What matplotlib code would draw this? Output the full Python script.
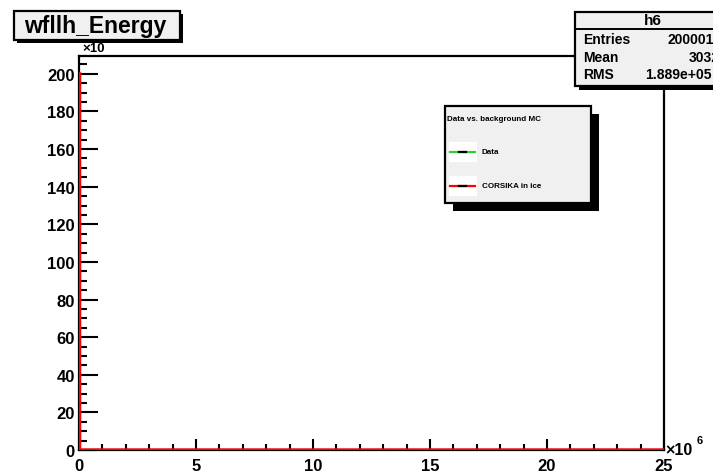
import numpy as np
import matplotlib
matplotlib.use("Agg")
import matplotlib.pyplot as plt
from matplotlib.patches import Rectangle
from matplotlib.lines import Line2D
from matplotlib.ticker import MultipleLocator

plt.rcParams['font.family'] = ['Liberation Sans', 'DejaVu Sans']
plt.rcParams['font.weight'] = 'bold'

# histogram contents: wfllh energy, everything lands in the first bin
hist_name = "h6"
hist_title = "wfllh_Energy"
n_entries = 200001
mean_str = "3032"
rms_str = "1.889e+05"
n_bins = 1000
x_max = 25e6
first_bin = n_entries
legend_header = "Data vs. background MC"
legend_labels = ["Data", "CORSIKA in ice"]
legend_colors = ["#33cc33", "red"]

W, H = 713, 477
fig = plt.figure(figsize=(W / 100, H / 100), dpi=100)
fig.patch.set_facecolor("white")


def fx(x):
    return x / W


def fy(y):
    return 1 - y / H


def box(x0, y0, x1, y1, shadow, z, face="#f0f0f0"):
    # ROOT style pave: black drop shadow then filled frame
    fig.add_artist(Rectangle((fx(x0 + shadow), fy(y1 + shadow)), fx(x1 - x0), (y1 - y0) / H,
                             transform=fig.transFigure, facecolor="black", edgecolor="none", zorder=z))
    fig.add_artist(Rectangle((fx(x0), fy(y1)), fx(x1 - x0), (y1 - y0) / H,
                             transform=fig.transFigure, facecolor=face, edgecolor="black",
                             linewidth=1.6, zorder=z + 0.1))


ax = fig.add_axes([fx(79), fy(451), fx(664 - 79), (451 - 57) / H])
edges = np.linspace(0, x_max, n_bins + 1)
counts = np.zeros(n_bins)
counts[0] = first_bin
ax.stairs(counts / 1e3, edges / 1e6, color="red", linewidth=2.4, baseline=0, zorder=3)

ax.set_xlim(0, 25)
ax.set_ylim(0, 209.5)
ax.xaxis.set_major_locator(MultipleLocator(5))
ax.xaxis.set_minor_locator(MultipleLocator(1))
ax.yaxis.set_major_locator(MultipleLocator(20))
ax.yaxis.set_minor_locator(MultipleLocator(5))
ax.tick_params(axis="x", which="major", direction="in", length=8, width=1.5, pad=6, labelsize=12)
ax.tick_params(axis="x", which="minor", direction="in", length=4.5, width=1.5)
ax.tick_params(axis="y", which="major", direction="in", length=13.5, width=1.5, pad=3, labelsize=12)
ax.tick_params(axis="y", which="minor", direction="in", length=6, width=1.5)
for lab in ax.get_xticklabels() + ax.get_yticklabels():
    lab.set_fontweight("bold")
for s in ax.spines.values():
    s.set_linewidth(1.6)

# axis multipliers (the y exponent sits under the title pave)
fig.text(fx(82), fy(49), "\u00d710", fontsize=9.5, ha="left", va="center", zorder=2)
fig.text(fx(665), fy(451), "\u00d710", fontsize=11.5, ha="left", va="center", zorder=2)
fig.text(fx(697), fy(441), "6", fontsize=8, ha="left", va="center", zorder=2)

# title pave
box(14, 12, 180, 41, 3, 5)
fig.text(fx(95), fy(27), hist_title, fontsize=16.5, ha="center", va="center", zorder=6)

# stats pave
box(575, 13, 740, 87, 4, 5)
fig.add_artist(Line2D([fx(575), fx(740)], [fy(30), fy(30)], transform=fig.transFigure,
                      color="black", linewidth=1.4, zorder=5.5))
fig.text(fx(653), fy(21), hist_name, fontsize=11, ha="center", va="center", zorder=6)
stat_names = ["Entries", "Mean", "RMS"]
stat_vals = [str(n_entries), mean_str, rms_str]
stat_x = [667, 689, 645]
for i, (nm, v, sx) in enumerate(zip(stat_names, stat_vals, stat_x)):
    yy = 40 + 17.5 * i
    fig.text(fx(583), fy(yy), nm, fontsize=10, ha="left", va="center", zorder=6)
    fig.text(fx(sx), fy(yy), v, fontsize=10, ha="left", va="center", zorder=6)

# legend pave
box(445, 107, 591, 204, 8, 5)
fig.text(fx(447), fy(120), legend_header, fontsize=5.8, ha="left", va="center", zorder=6)
for i, (lab, col) in enumerate(zip(legend_labels, legend_colors)):
    yy = 153 + 34 * i
    fig.add_artist(Rectangle((fx(449), fy(yy + 10)), fx(28), 20 / H, transform=fig.transFigure,
                             facecolor="white", edgecolor="none", zorder=5.5))
    fig.add_artist(Line2D([fx(450), fx(475)], [fy(yy), fy(yy)], transform=fig.transFigure,
                          color=col, linewidth=1.6, zorder=5.6))
    fig.add_artist(Line2D([fx(459), fx(466)], [fy(yy), fy(yy)], transform=fig.transFigure,
                          color="black", linewidth=1.6, zorder=5.7))
    fig.text(fx(482), fy(yy), lab, fontsize=5.8, ha="left", va="center", zorder=6)

fig.savefig("out.png", dpi=100)
